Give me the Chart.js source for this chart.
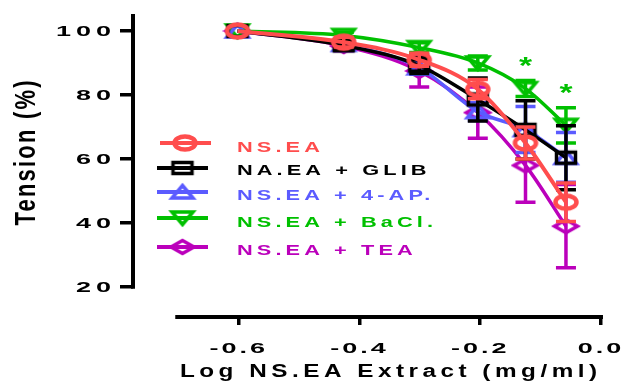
<!DOCTYPE html>
<html><head><meta charset="utf-8">
<script src="https://cdn.jsdelivr.net/npm/chart.js@4/dist/chart.umd.min.js"></script>
<style>html,body{margin:0;padding:0;background:#fff;}#wrap{width:624px;height:386px;position:relative;}</style>
</head><body><div id="wrap"><canvas id="c" width="624" height="386"></canvas></div>
<script>
// ---- data ----
const logConc = [-0.602, -0.426, -0.301, -0.204, -0.125, -0.058];
const seriesNames = ['NS.EA', 'NA.EA + GLIB', 'NS.EA + 4-AP.', 'NS.EA + BaCl.', 'NS.EA + TEA'];
const nsEA    = [100, 96.5, 91.0, 81.8, 65.0, 46.5];
const nsEAErr = [0, 1.5, 2.0, 3.0, 5.0, 6.0];
const glib    = [100, 95.5, 89.2, 78.6, 69.1, 60.4];
const glibErr = [0, 1.5, 2.5, 6.7, 9.1, 10.0];
const ap4     = [100, 95.8, 88.5, 74.8, 69.2, 60.5];
const ap4Err  = [0, 1.5, 2.0, 2.8, 7.2, 7.8];
const bacl    = [100, 98.6, 94.8, 90.0, 82.0, 70.5];
const baclErr = [0, 1.0, 1.5, 2.2, 2.5, 5.5];
const tea     = [100, 95.3, 87.5, 74.5, 58.0, 39.0];
const teaErr  = [0, 1.5, 5.0, 8.0, 11.5, 13.0];
const sigX = [-0.125, -0.058];
const sigY = [90.6, 81.9];
const xTicks = [-0.6, -0.4, -0.2, 0.0];
const xTickLabels = ['-0.6', '-0.4', '-0.2', '0.0'];
const yTicks = [20, 40, 60, 80, 100];
const yTickLabels = ['20', '40', '60', '80', '100'];
const xTitle = 'Log NS.EA Extract (mg/ml)';
const yTitle = 'Tension (%)';

// ---- styles ----
const colors = ['#ff4d4d', '#000000', '#5b5bff', '#00c000', '#bb00bb'];
const kinds = ['circle', 'rect', 'tri', 'itri', 'diamond'];
const FONT = '"Liberation Sans", Arial, sans-serif';

function makeMarker(kind, color) {
  const w = 30, h = 24, c = document.createElement('canvas');
  c.width = w; c.height = h;
  const g = c.getContext('2d');
  const cx = w / 2, cy = h / 2;
  g.strokeStyle = color; g.lineJoin = 'miter'; g.beginPath();
  if (kind === 'circle') { g.lineWidth = 4.5; g.ellipse(cx, cy, 10.5, 6.5, 0, 0, Math.PI * 2); }
  else if (kind === 'rect') { g.lineWidth = 3.5; g.rect(cx - 9.5, cy - 5.5, 19, 11); }
  else if (kind === 'tri') { g.lineWidth = 3.5; g.moveTo(cx, cy - 6.5); g.lineTo(cx + 10.5, cy + 6); g.lineTo(cx - 10.5, cy + 6); g.closePath(); }
  else if (kind === 'itri') { g.lineWidth = 3.5; g.moveTo(cx, cy + 6.5); g.lineTo(cx + 10.5, cy - 6); g.lineTo(cx - 10.5, cy - 6); g.closePath(); }
  else { g.lineWidth = 3.5; g.moveTo(cx, cy - 6.5); g.lineTo(cx + 11.5, cy); g.lineTo(cx, cy + 6.5); g.lineTo(cx - 11.5, cy); g.closePath(); }
  g.stroke();
  return c;
}
const markers = kinds.map((k, i) => makeMarker(k, colors[i]));

function stretchedText(ctx, text, x, y, o) {
  ctx.save();
  ctx.font = 'bold ' + o.size + 'px ' + FONT;
  ctx.fillStyle = o.color || '#000';
  ctx.textBaseline = 'alphabetic';
  ctx.textAlign = 'left';
  if ('letterSpacing' in ctx) ctx.letterSpacing = '0px';
  const base = ctx.measureText(text).width;
  const along = o.rotate ? 1 : o.sx;
  const total = base * along + o.spacing * (text.length - 1);
  ctx.translate(x, y);
  if (o.rotate) { ctx.scale(o.sx, 1); ctx.rotate(-Math.PI / 2); }
  else { ctx.scale(o.sx, 1); }
  let start = o.align === 'center' ? -total / 2 : (o.align === 'right' ? -total : 0);
  start = start / along;
  const sp = o.spacing / along;
  if ('letterSpacing' in ctx) {
    ctx.letterSpacing = sp + 'px';
    ctx.fillText(text, start, 0);
  } else {
    let cur = start;
    for (const ch of text) { ctx.fillText(ch, cur, 0); cur += ctx.measureText(ch).width + sp; }
  }
  ctx.restore();
}

const series = [nsEA, glib, ap4, bacl, tea];
const errs = [nsEAErr, glibErr, ap4Err, baclErr, teaErr];

const datasets = series.map((vals, i) => ({
  label: seriesNames[i],
  data: logConc.map((x, j) => ({ x: x, y: vals[j] })),
  errors: errs[i],
  borderColor: colors[i],
  backgroundColor: colors[i],
  borderWidth: i === 0 ? 4 : 3.5,
  pointStyle: markers[i],
  pointRadius: 10,
  cubicInterpolationMode: 'monotone',
  fill: false,
  clip: false
}));

const errorBars = {
  id: 'errorBars',
  beforeDatasetDraw(chart, args) {
    const ds = chart.data.datasets[args.index];
    const meta = args.meta;
    const y = chart.scales.y, ctx = chart.ctx;
    ctx.save();
    ctx.strokeStyle = ds.borderColor;
    ctx.lineWidth = 3.5;
    ctx.lineCap = 'butt';
    meta.data.forEach((pt, j) => {
      const e = ds.errors[j];
      if (!e) return;
      const v = ds.data[j].y;
      const top = y.getPixelForValue(v + e), bot = y.getPixelForValue(v - e);
      const px = pt.x;
      ctx.beginPath();
      ctx.moveTo(px, top); ctx.lineTo(px, bot);
      ctx.moveTo(px - 10, top); ctx.lineTo(px + 10, top);
      ctx.moveTo(px - 10, bot); ctx.lineTo(px + 10, bot);
      ctx.stroke();
    });
    ctx.restore();
  }
};

const decor = {
  id: 'decor',
  afterDraw(chart) {
    const ctx = chart.ctx, xs = chart.scales.x, ys = chart.scales.y, a = chart.chartArea;
    // axis lines
    ctx.save();
    ctx.strokeStyle = '#000';
    ctx.lineWidth = 4;
    ctx.beginPath();
    ctx.moveTo(a.left, a.top);
    ctx.lineTo(a.left, ys.getPixelForValue(yTicks[0]) + 1.75);
    ctx.moveTo(xs.getPixelForValue(-0.705), a.bottom);
    ctx.lineTo(xs.getPixelForValue(0) + 2, a.bottom);
    ctx.stroke();
    ctx.restore();
    // tick labels
    yTicks.forEach((v, i) => stretchedText(ctx, yTickLabels[i], 111, ys.getPixelForValue(v) + 5.5,
      { size: 15, sx: 1.8, spacing: 5, align: 'right' }));
    xTicks.forEach((v, i) => stretchedText(ctx, xTickLabels[i], xs.getPixelForValue(v) - 1.5, 353,
      { size: 15, sx: 1.8, spacing: 3, align: 'center' }));
    // titles
    stretchedText(ctx, xTitle, 388.5, 377, { size: 18, sx: 1.35, spacing: 4.5, align: 'center' });
    stretchedText(ctx, yTitle, 35, 153, { size: 22, sx: 1.3, spacing: 2.2, align: 'center', rotate: true });
    // significance asterisks
    ctx.save();
    ctx.font = 'bold 24px ' + FONT;
    const m = ctx.measureText('*');
    const off = (m.actualBoundingBoxAscent - m.actualBoundingBoxDescent) / 2;
    ctx.restore();
    sigX.forEach((x, i) => stretchedText(ctx, '*', xs.getPixelForValue(x), ys.getPixelForValue(sigY[i]) + off,
      { size: 24, sx: 1.4, spacing: 0, align: 'center', color: colors[3] }));
    // legend
    const lineY = [143, 168, 192, 218, 247];
    const textY = [152, 175, 200, 227, 255];
    chart.data.datasets.forEach((ds, i) => {
      ctx.save();
      ctx.strokeStyle = ds.borderColor;
      ctx.lineWidth = 4;
      ctx.beginPath();
      ctx.moveTo(i === 0 ? 160 : 157, lineY[i]);
      ctx.lineTo(i === 0 ? 211 : 208, lineY[i]);
      ctx.stroke();
      const mk = markers[i];
      ctx.drawImage(mk, (i === 0 ? 185 : 182.5) - mk.width / 2, lineY[i] - mk.height / 2);
      ctx.restore();
      stretchedText(ctx, ds.label, 237, textY[i], { size: 15, sx: 1.45, spacing: 4.1, align: 'left', color: ds.borderColor });
    });
  }
};

new Chart(document.getElementById('c'), {
  type: 'line',
  data: { datasets: datasets },
  options: {
    responsive: false,
    animation: false,
    devicePixelRatio: 1,
    layout: { padding: { left: 120, right: 20, top: 14, bottom: 61 } },
    plugins: { legend: { display: false }, tooltip: { enabled: false } },
    scales: {
      x: {
        type: 'linear', min: -0.775, max: 0.005,
        border: { display: false },
        grid: { drawOnChartArea: false, drawTicks: true, tickLength: 8, color: '#000', lineWidth: 3.5 },
        ticks: { display: false },
        afterBuildTicks: s => { s.ticks = xTicks.map(v => ({ value: v })); }
      },
      y: {
        type: 'linear', min: 10.625, max: 105.3,
        border: { display: false },
        grid: { drawOnChartArea: false, drawTicks: true, tickLength: 13, color: '#000', lineWidth: 3.5 },
        ticks: { display: false },
        afterBuildTicks: s => { s.ticks = yTicks.map(v => ({ value: v })); }
      }
    }
  },
  plugins: [errorBars, decor]
});
</script></body></html>
